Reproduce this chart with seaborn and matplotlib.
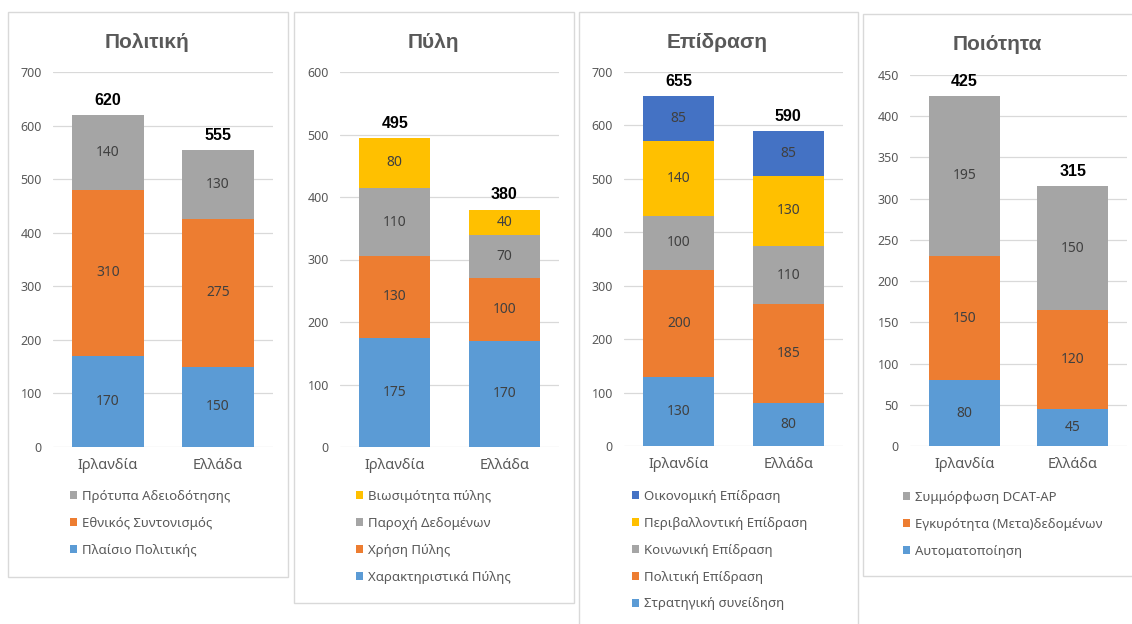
import matplotlib.pyplot as plt
import seaborn as sns
import pandas as pd
from matplotlib.patches import Rectangle, Patch

# figure size in pixels
W, H = 1132, 624

countries = ["Ιρλανδία", "Ελλάδα"]

# series are listed from the bottom of the stack to the top
policy_title = "Πολιτική"
policy_series = ["Πλαίσιο Πολιτικής", "Εθνικός Συντονισμός", "Πρότυπα Αδειοδότησης"]
policy_values = [[170, 150], [310, 275], [140, 130]]

portal_title = "Πύλη"
portal_series = ["Χαρακτηριστικά Πύλης", "Χρήση Πύλης", "Παροχή Δεδομένων", "Βιωσιμότητα πύλης"]
portal_values = [[175, 170], [130, 100], [110, 70], [80, 40]]

impact_title = "Επίδραση"
impact_series = ["Στρατηγική συνείδηση", "Πολιτική Επίδραση", "Κοινωνική Επίδραση",
                 "Περιβαλλοντική Επίδραση", "Οικονομική Επίδραση"]
impact_values = [[130, 80], [200, 185], [100, 110], [140, 130], [85, 85]]

quality_title = "Ποιότητα"
quality_series = ["Αυτοματοποίηση", "Εγκυρότητα (Μετα)δεδομένων", "Συμμόρφωση DCAT-AP"]
quality_values = [[80, 45], [150, 120], [195, 150]]

# Office palette
BLUE, ORANGE, GREY, GOLD, DBLUE = "#5B9BD5", "#ED7D31", "#A5A5A5", "#FFC000", "#4472C4"
TXT = "#595959"
BOLD_FONT = ["Liberation Sans", "DejaVu Sans"]

sns.set_theme(style="white")
plt.rcParams["font.family"] = ["Noto Sans", "DejaVu Sans"]

panels = [
    dict(title=policy_title, series=policy_series, values=policy_values,
         colors=[BLUE, ORANGE, GREY], ymax=700, step=100,
         ax=(53, 72, 273, 447), box=(8, 12, 288, 577), tx=147, ty=42, lx=70, ly=490),
    dict(title=portal_title, series=portal_series, values=portal_values,
         colors=[BLUE, ORANGE, GREY, GOLD], ymax=600, step=100,
         ax=(340, 72, 559, 447), box=(294, 12, 574, 603), tx=433, ty=42, lx=356, ly=490),
    dict(title=impact_title, series=impact_series, values=impact_values,
         colors=[BLUE, ORANGE, GREY, GOLD, DBLUE], ymax=700, step=100,
         ax=(624, 72, 843, 446), box=(579, 12, 858, 630), tx=717, ty=42, lx=632, ly=490),
    dict(title=quality_title, series=quality_series, values=quality_values,
         colors=[BLUE, ORANGE, GREY], ymax=450, step=50,
         ax=(910, 75, 1127, 446), box=(863, 14, 1135, 576), tx=997, ty=45, lx=903, ly=491),
]

fig = plt.figure(figsize=(W / 100, H / 100), dpi=100)


def fig_rect(l, t, r, b):
    return [l / W, 1 - b / H, (r - l) / W, (b - t) / H]


for p in panels:
    l, t, r, b = p["box"]
    fig.add_artist(Rectangle((l / W, 1 - b / H), (r - l) / W, (b - t) / H,
                             transform=fig.transFigure, facecolor="white",
                             edgecolor="#D9D9D9", linewidth=1.0, zorder=0))

    ax = fig.add_axes(fig_rect(*p["ax"]))
    ax.set_facecolor("none")

    df = pd.DataFrame(p["values"], index=p["series"], columns=countries)
    cum = df.cumsum()

    # draw cumulative totals from the top series down so lower segments overlay
    for name, color in reversed(list(zip(p["series"], p["colors"]))):
        sns.barplot(x=countries, y=cum.loc[name].values, color=color, saturation=1,
                    width=0.65, errorbar=None, linewidth=0, ax=ax, zorder=2)

    # segment labels
    for name in p["series"]:
        for i, c in enumerate(countries):
            mid = cum.loc[name, c] - df.loc[name, c] / 2
            ax.text(i, mid, f"{df.loc[name, c]}", ha="center", va="center",
                    fontsize=10, color="#404040", zorder=3)

    # totals
    totals = df.sum()
    for i, c in enumerate(countries):
        ax.annotate(f"{totals[c]}", (i, totals[c]), xytext=(0, 10.5),
                    textcoords="offset points", ha="center", va="center",
                    fontsize=11.5, fontweight="bold", color="black",
                    family=BOLD_FONT, annotation_clip=False)

    ax.set_xlim(-0.5, 1.5)
    ax.set_ylim(0, p["ymax"])
    ax.set_yticks(range(0, p["ymax"] + 1, p["step"]))
    ax.yaxis.grid(True, color="#D9D9D9", linewidth=0.9)
    ax.set_axisbelow(True)
    for s in ax.spines.values():
        s.set_visible(False)
    ax.tick_params(axis="y", length=0, pad=8, labelsize=9, labelcolor=TXT)
    ax.tick_params(axis="x", length=0, pad=8, labelsize=10.5, labelcolor=TXT)
    ax.set_xlabel("")
    ax.set_ylabel("")

    fig.text(p["tx"] / W, 1 - p["ty"] / H, p["title"], ha="center", va="center",
             fontsize=15, fontweight="bold", color=TXT, family=BOLD_FONT)

    handles = [Patch(facecolor=c, edgecolor="none", label=n)
               for n, c in zip(p["series"], p["colors"])][::-1]
    ax.legend(handles=handles, loc="upper left",
              bbox_to_anchor=(p["lx"] / W, 1 - p["ly"] / H),
              bbox_transform=fig.transFigure, frameon=False, fontsize=9.5,
              labelcolor=TXT, handlelength=0.55, handleheight=0.55,
              handletextpad=0.35, labelspacing=1.05, borderpad=0, borderaxespad=0)

fig.savefig("out.png", dpi=100, facecolor="white")
